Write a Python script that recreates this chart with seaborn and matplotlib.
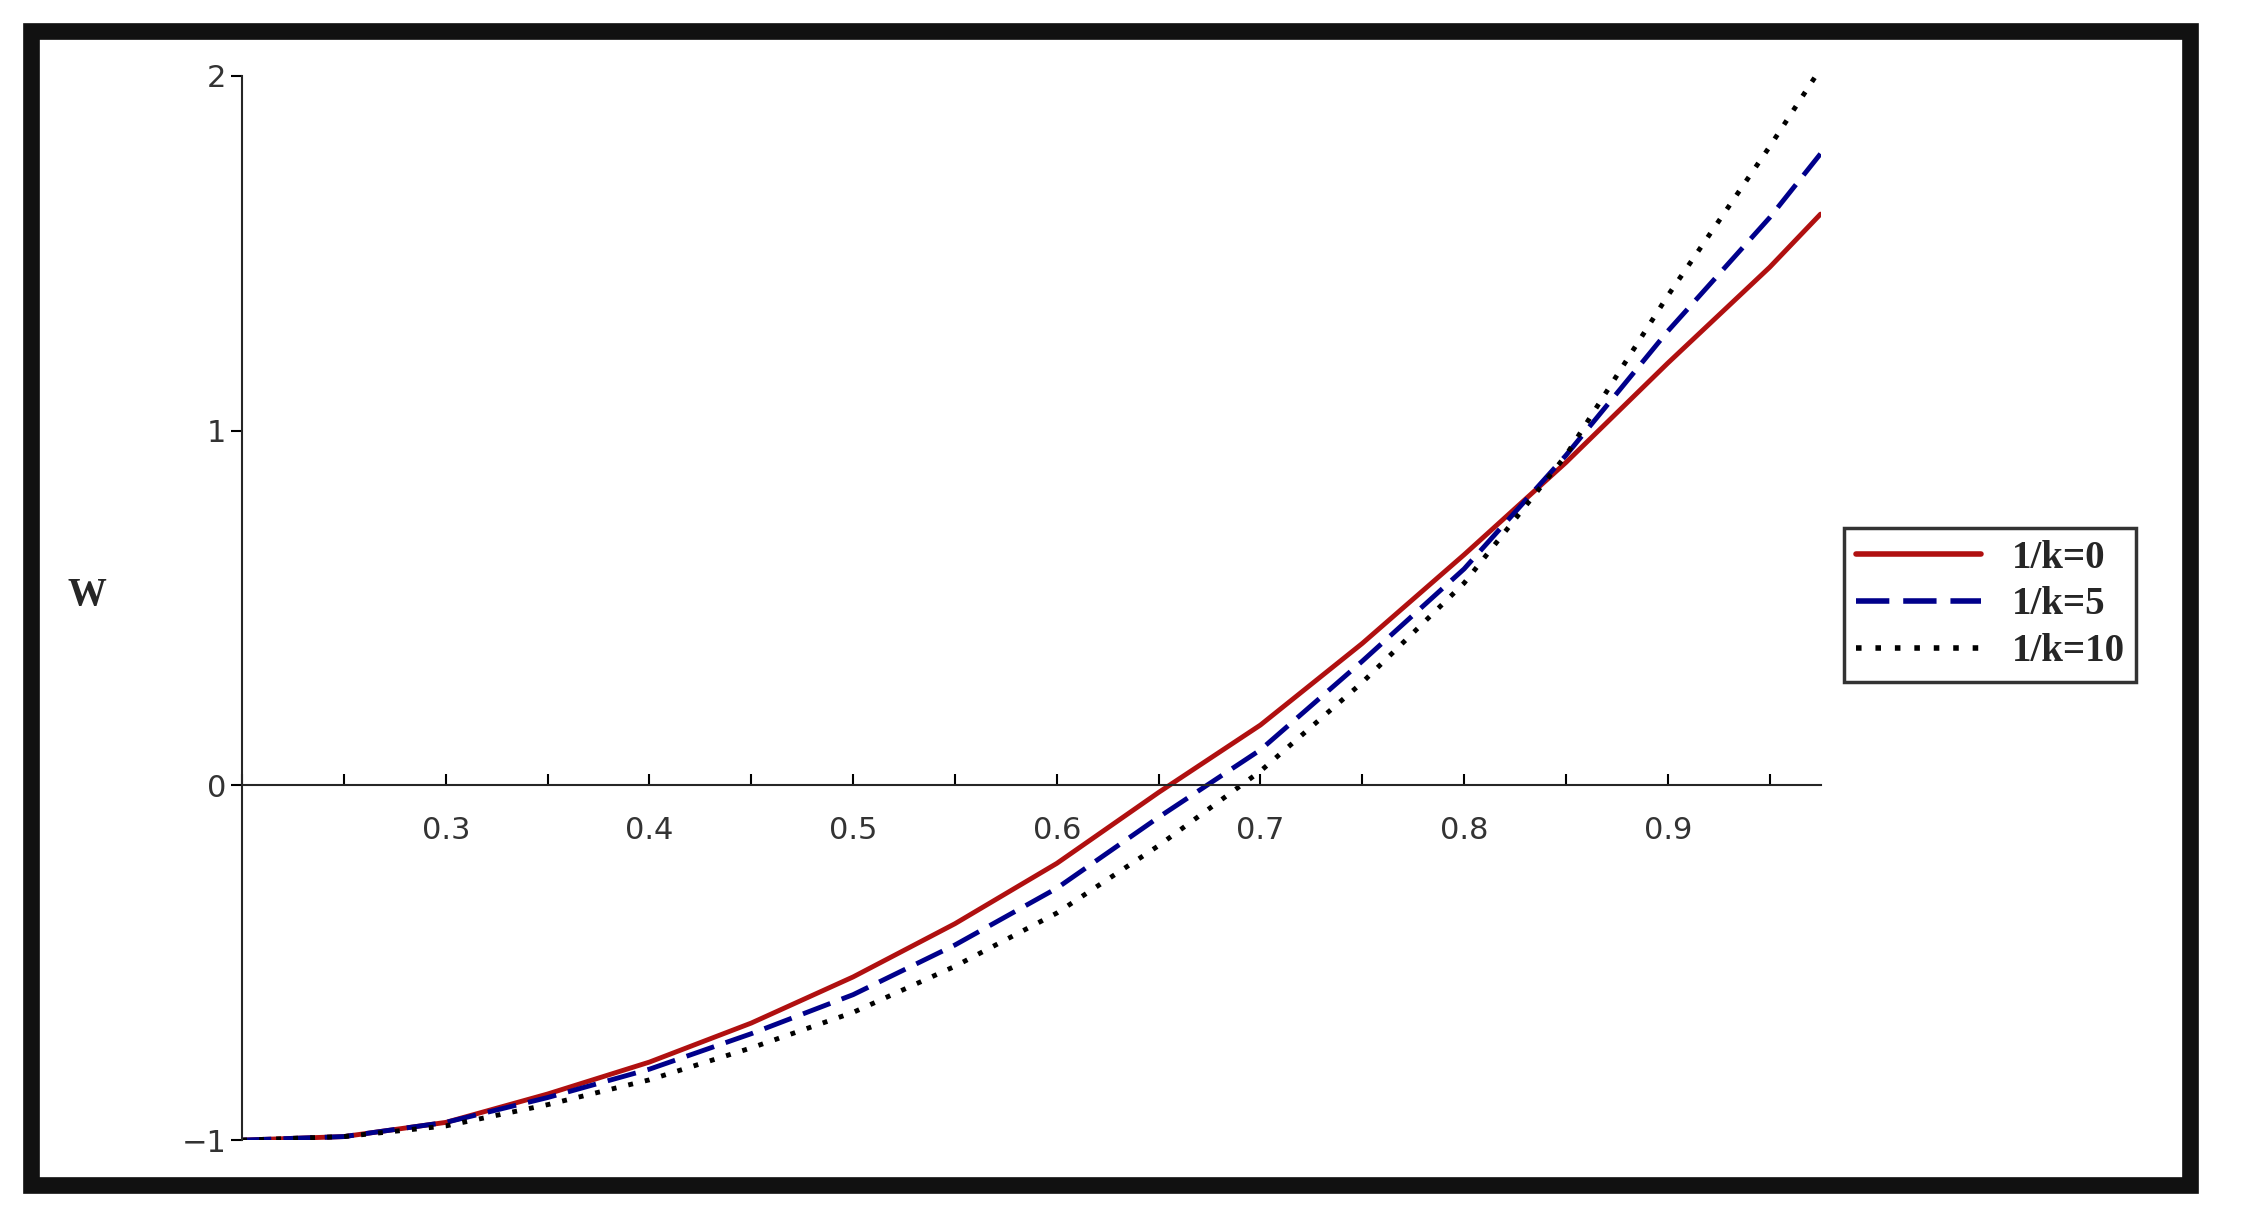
import numpy as np
import pandas as pd
import matplotlib
matplotlib.use("Agg")
import matplotlib.pyplot as plt
import seaborn as sns
from matplotlib.patches import Rectangle
from matplotlib.lines import Line2D
from matplotlib.ticker import MultipleLocator

# values
x_vals = [0.2, 0.25, 0.3, 0.35, 0.4, 0.45, 0.5, 0.55, 0.6, 0.65, 0.7, 0.75, 0.8, 0.85, 0.9, 0.95, 0.975]
w_k0 = [-1.0, -0.99, -0.95, -0.87, -0.78, -0.67, -0.54, -0.39, -0.22, -0.02, 0.17, 0.40, 0.65, 0.91, 1.19, 1.46, 1.61]
w_k5 = [-1.0, -0.99, -0.95, -0.88, -0.80, -0.70, -0.59, -0.45, -0.29, -0.09, 0.10, 0.35, 0.61, 0.93, 1.28, 1.60, 1.78]
w_k10 = [-1.0, -0.99, -0.96, -0.90, -0.83, -0.74, -0.64, -0.51, -0.36, -0.17, 0.04, 0.29, 0.57, 0.93, 1.38, 1.80, 2.02]
labels = ["1/k=0", "1/k=5", "1/k=10"]

df = pd.DataFrame({"x": x_vals * 3,
                   "W": w_k0 + w_k5 + w_k10,
                   "case": [labels[0]] * len(x_vals) + [labels[1]] * len(x_vals) + [labels[2]] * len(x_vals)})

sns.set_style("white")
fig = plt.figure(figsize=(22.42, 12.22), dpi=100)
ax = fig.add_axes([0.108, 0.067, 0.704, 0.871])

palette = {labels[0]: "#b01010", labels[1]: "#00008b", labels[2]: "black"}
sns.lineplot(data=df, x="x", y="W", hue="case", style="case", palette=palette,
             dashes={labels[0]: "", labels[1]: (6, 2.5), labels[2]: (1, 2.5)},
             linewidth=3.5, ax=ax, legend=False)

ax.set_xlim(0.2, 0.975)
ax.set_ylim(-1, 2)
ax.spines["top"].set_visible(False)
ax.spines["right"].set_visible(False)
ax.spines["bottom"].set_position(("data", 0))
for s in ("left", "bottom"):
    ax.spines[s].set_linewidth(1.5)
ax.set_xticks([0.3, 0.4, 0.5, 0.6, 0.7, 0.8, 0.9])
ax.xaxis.set_minor_locator(MultipleLocator(0.05))
ax.set_yticks([-1, 0, 1, 2])
ax.set_yticklabels(["\u22121", "0", "1", "2"])
ax.tick_params(axis="both", which="both", direction="out", length=8, width=1.5,
               labelsize=22, colors="black", labelcolor="#333333", bottom=True, left=True)
ax.tick_params(axis="x", which="both", direction="in", pad=22)
ax.set_xlabel("")
ax.set_ylabel("")
fig.text(0.03, 0.505, "W", fontsize=28, fontweight="bold", family="Liberation Serif")

handles = [Line2D([], [], color=palette[labels[0]], lw=4),
           Line2D([], [], color=palette[labels[1]], lw=4, dashes=(6, 2.5)),
           Line2D([], [], color="black", lw=4, dashes=(1, 2.5))]
leg = fig.legend(handles, labels, loc="center left", bbox_to_anchor=(0.814, 0.505),
                 prop={"family": "Liberation Serif", "weight": "bold", "size": 28},
                 frameon=True, fancybox=False, edgecolor="black", handlelength=3.2,
                 borderpad=0.3, labelspacing=0.25)
leg.get_frame().set_linewidth(2.5)

fig.patches.append(Rectangle((0.014, 0.03), 0.963, 0.945, transform=fig.transFigure,
                             fill=False, edgecolor="#111111", linewidth=12))
fig.savefig("out.png", dpi=100)
